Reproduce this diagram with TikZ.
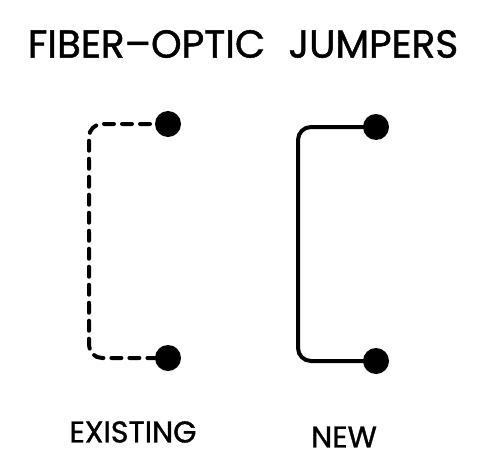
\documentclass[tikz,border=0pt]{standalone}
\usepackage{fontspec}
\setmainfont[FakeBold=1.2]{Poppins}
\usetikzlibrary{calc,positioning}

\begin{document}
\begin{tikzpicture}[x=1pt, y=-1pt,
  every node/.style={inner sep=0pt},
  dot/.style={circle, fill=black, minimum size=26pt},
  jumper/.style={line width=4pt, rounded corners=13pt, line cap=round}]
  \useasboundingbox (0,0) rectangle (490,466);
  \node (title) at (243,44) {\fontsize{39}{39}\selectfont FIBER–OPTIC\hspace{0.6em}JUMPERS};
  % existing jumper
  \node[dot] (e1) at (168,124) {};
  \node[dot] (e2) at (168,358) {};
  \coordinate (ebend) at (89,241);
  \draw[jumper, dash pattern=on 10pt off 8pt] (e1.center) -| (ebend) |- (e2.center);
  % new jumper
  \node[dot] (n1) at (376,127) {};
  \node[dot] (n2) at (376,361) {};
  \coordinate (nbend) at (298,244);
  \draw[jumper] (n1.center) -| (nbend) |- (n2.center);
  \node (elabel) at (133,432) {\fontsize{30}{30}\selectfont EXISTING};
  \node (nlabel) at (344,437) {\fontsize{30}{30}\selectfont NEW};
\end{tikzpicture}
\end{document}
